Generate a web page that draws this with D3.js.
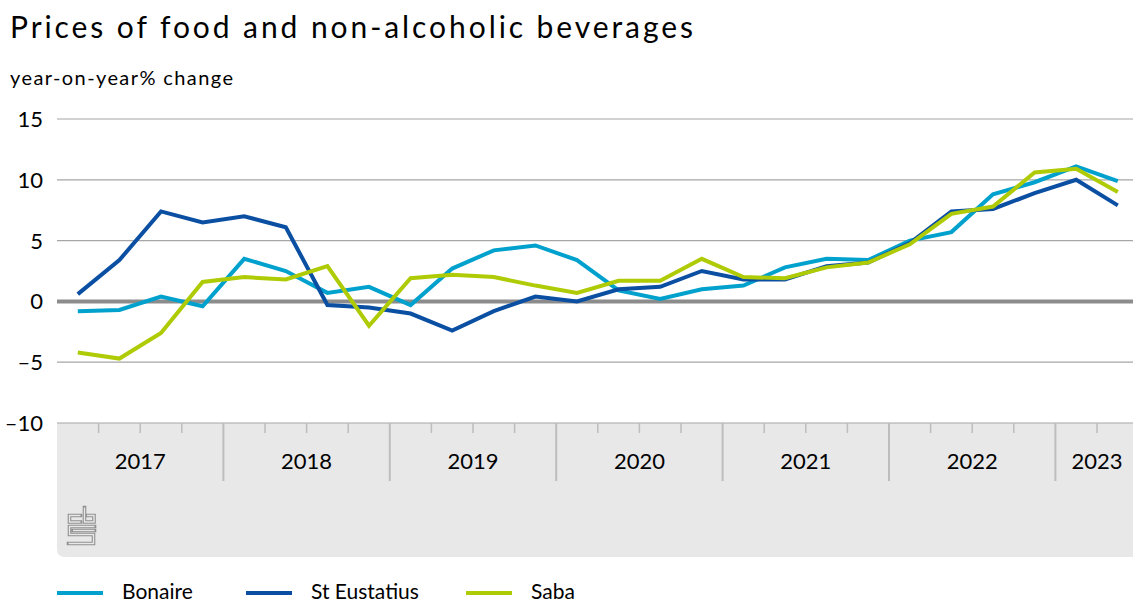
<!DOCTYPE html>
<html><head><meta charset="utf-8">
<script src="https://cdn.jsdelivr.net/npm/d3@7"></script>
<style>
body{margin:0;background:#fff;}
svg{display:block;font-family:Lato,"Open Sans",sans-serif;}
</style></head>
<body><svg id="c" width="1133" height="604"></svg>
<script>
const years = ["2017","2018","2019","2020","2021","2022","2023"];
const quartersPerYear = [4,4,4,4,4,4,2];
const bonaire = [-0.8,-0.7,0.4,-0.4, 3.5,2.5,0.7,1.2, -0.3,2.7,4.2,4.6, 3.4,0.9,0.2,1.0, 1.3,2.8,3.5,3.4, 5.0,5.7,8.8,9.8, 11.1,9.9];
const stEustatius = [0.6,3.4,7.4,6.5, 7.0,6.1,-0.3,-0.5, -1.0,-2.4,-0.8,0.4, 0.0,1.0,1.2,2.5, 1.8,1.8,2.9,3.2, 4.8,7.4,7.6,8.9, 10.0,7.9];
const saba = [-4.2,-4.7,-2.6,1.6, 2.0,1.8,2.9,-2.0, 1.9,2.2,2.0,1.3, 0.7,1.7,1.7,3.5, 2.0,1.9,2.8,3.2, 4.7,7.2,7.8,10.6, 10.9,9.0];
const yTicks = [-10,-5,0,5,10,15];
const seriesNames = ["Bonaire","St Eustatius","Saba"];
const seriesColors = ["#00a1cd","#0b4fa3","#afcb05"];

const svg = d3.select("#c");
const nQ = d3.sum(quartersPerYear);
const x = d3.scaleLinear().domain([0, nQ]).range([57, 1138.6]);
const y = d3.scaleLinear().domain([-10, 15]).range([423, 119]);

// title
svg.append("text").attr("x",10).attr("y",38).attr("font-size",30).attr("fill","#000")
  .attr("textLength",683).attr("lengthAdjust","spacing")
  .text("Prices of food and non-alcoholic beverages");
svg.append("text").attr("x",10).attr("y",85).attr("font-size",20).attr("fill","#000")
  .attr("textLength",223).attr("lengthAdjust","spacing")
  .text("year-on-year% change");

// band
const bandTop = y(-10), bandBot = 557, r = 8;
svg.append("path").attr("fill","#e8e8e8")
  .attr("d",`M57,${bandTop} H1133 V${bandBot} H${57+r} Q57,${bandBot} 57,${bandBot-r} Z`);

// gridlines
svg.append("g").selectAll("line").data(yTicks.filter(d=>d!==0)).join("line")
  .attr("x1",57).attr("x2",1133).attr("y1",d=>y(d)).attr("y2",d=>y(d))
  .attr("stroke","#a6a6a6").attr("stroke-width",1.2);

// y labels
svg.append("g").selectAll("text").data(yTicks).join("text")
  .attr("x",43).attr("y",d=>y(d)+8).attr("text-anchor","end").attr("font-size",22)
  .attr("fill","#000").text(d=>d<0?"\u2013"+Math.abs(d):d);

// ticks
let start = 0;
const yearStarts = [];
quartersPerYear.forEach(q=>{yearStarts.push(start); start+=q;});
const minor = d3.range(1, nQ).filter(i=>!yearStarts.includes(i));
svg.append("g").selectAll("line").data(minor).join("line")
  .attr("x1",d=>x(d)).attr("x2",d=>x(d)).attr("y1",bandTop).attr("y2",bandTop+10)
  .attr("stroke","#bdbdbd").attr("stroke-width",1.5);
svg.append("g").selectAll("line").data(yearStarts.slice(1)).join("line")
  .attr("x1",d=>x(d)).attr("x2",d=>x(d)).attr("y1",bandTop).attr("y2",bandTop+58)
  .attr("stroke","#bdbdbd").attr("stroke-width",2);
svg.append("g").selectAll("text").data(years).join("text")
  .attr("x",(d,i)=>x(yearStarts[i]+quartersPerYear[i]/2)).attr("y",469)
  .attr("text-anchor","middle").attr("font-size",22).attr("fill","#000").text(d=>d);

// zero line
svg.append("line").attr("x1",57).attr("x2",1133).attr("y1",y(0)).attr("y2",y(0))
  .attr("stroke","#8c8c8c").attr("stroke-width",4);

// lines
const all = [bonaire, stEustatius, saba];
const line = d3.line().x((d,i)=>x(i+0.5)).y(d=>y(d));
all.forEach((s,k)=>{
  svg.append("path").attr("d",line(s)).attr("fill","none")
    .attr("stroke",seriesColors[k]).attr("stroke-width",4).attr("stroke-linejoin","miter");
});

// logo (outlined glyph style)
const logoPaths = [
  "M80.5,515.5 H69.5 V522 H80.5",
  "M84.5,507.5 V522 H94 V515.5 H87",
  "M94.5,526.5 H69.5 V534.5 H93.5 V543.5 H68.5",
  "M73,530.5 H94.5"
];
const lg = svg.append("g");
logoPaths.forEach(p=>{
  lg.append("path").attr("d",p).attr("fill","none").attr("stroke","#8f8f8f")
    .attr("stroke-width",3.6).attr("stroke-linecap","square").attr("stroke-linejoin","miter");
});
logoPaths.forEach(p=>{
  lg.append("path").attr("d",p).attr("fill","none").attr("stroke","#e8e8e8")
    .attr("stroke-width",1.4).attr("stroke-linecap","butt").attr("stroke-linejoin","miter");
});

// legend
const lx = [57, 246, 466];
const legend = svg.append("g").selectAll("g").data(seriesNames).join("g")
  .attr("transform",(d,i)=>`translate(${lx[i]},593)`);
legend.append("line").attr("x1",0).attr("x2",46).attr("y1",0).attr("y2",0)
  .attr("stroke",(d,i)=>seriesColors[i]).attr("stroke-width",4);
legend.append("text").attr("x",65).attr("y",6).attr("font-size",21).attr("fill","#000").text(d=>d);
</script></body></html>
